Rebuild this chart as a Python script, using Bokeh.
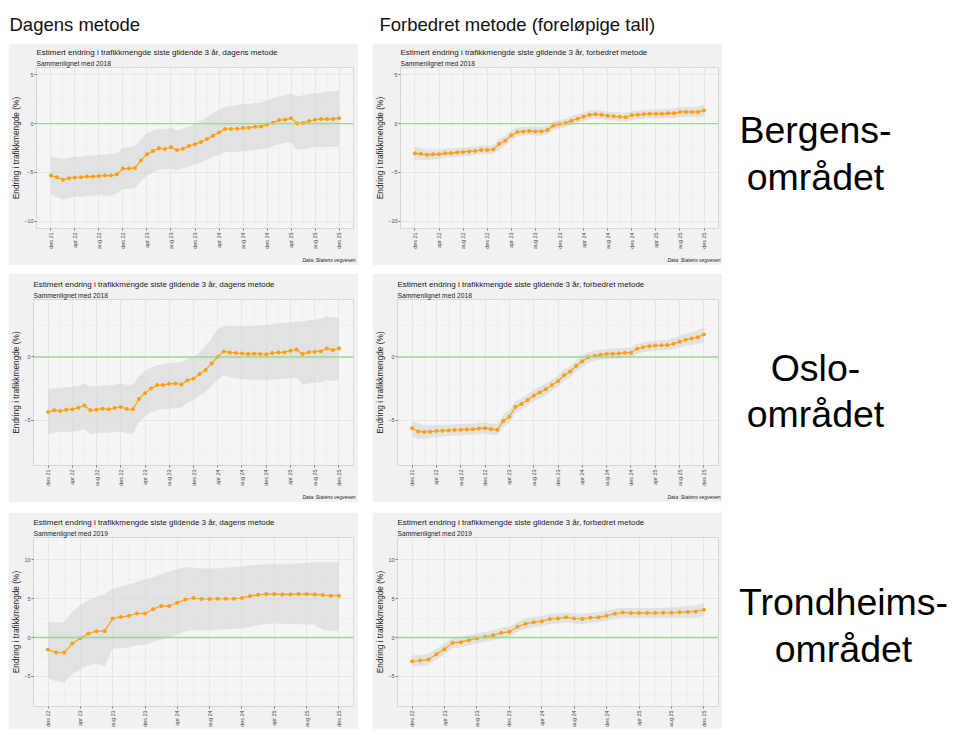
import math
from bokeh.plotting import figure
from bokeh.models import Range1d, FixedTicker, Title, Spacer, Span
from bokeh.layouts import column, row
from bokeh.core.properties import value
from bokeh.embed import file_html
from bokeh.resources import INLINE

FONT = "Liberation Sans"

# ---------------- data ----------------
labels_2021 = ["des 21", "apr 22", "aug 22", "des 22", "apr 23", "aug 23", "des 23",
               "apr 24", "aug 24", "des 24", "apr 25", "aug 25", "des 25"]
labels_2022 = ["des 22", "apr 23", "aug 23", "des 23", "apr 24", "aug 24", "des 24",
               "apr 25", "aug 25", "des 25"]

# Bergensområdet, dagens metode
bergen_dag = [-5.33, -5.49, -5.76, -5.59, -5.53, -5.49, -5.43, -5.43, -5.36, -5.33,
              -5.33, -5.20, -4.61, -4.61, -4.54, -3.78, -3.13, -2.80, -2.53, -2.60,
              -2.43, -2.70, -2.57, -2.30, -2.11, -1.88, -1.58, -1.25, -0.92, -0.56,
              -0.56, -0.53, -0.46, -0.43, -0.33, -0.30, -0.10, 0.10, 0.36, 0.39,
              0.56, 0.00, 0.07, 0.26, 0.39, 0.46, 0.46, 0.46, 0.56]
bergen_dag_hi = [-3.4, -3.5, -3.6, -3.5, -3.4, -3.4, -3.3, -3.3, -3.2, -3.2,
                 -3.1, -3.0, -2.5, -2.4, -2.3, -1.6, -1.0, -0.7, -0.5, -0.6,
                 -0.4, -0.7, -0.5, -0.3, 0.0, 0.3, 0.7, 1.1, 1.4, 1.7,
                 1.8, 1.9, 2.0, 2.0, 2.1, 2.2, 2.4, 2.6, 2.8, 2.9,
                 3.1, 2.8, 2.9, 3.0, 3.1, 3.2, 3.3, 3.3, 3.4]
bergen_dag_lo = [-7.3, -7.5, -7.8, -7.6, -7.5, -7.5, -7.4, -7.4, -7.3, -7.4,
                 -7.4, -7.2, -6.7, -6.7, -6.6, -5.9, -5.3, -5.0, -4.7, -4.7,
                 -4.6, -4.8, -4.6, -4.4, -4.2, -4.0, -3.7, -3.4, -3.2, -2.9,
                 -2.9, -2.9, -2.8, -2.8, -2.7, -2.6, -2.5, -2.3, -2.1, -2.0,
                 -1.9, -2.7, -2.6, -2.5, -2.4, -2.4, -2.4, -2.4, -2.3]

# Bergensområdet, forbedret metode
bergen_forb = [-3.05, -3.10, -3.20, -3.15, -3.15, -3.05, -3.00, -2.95, -2.90, -2.85,
               -2.80, -2.70, -2.70, -2.65, -2.10, -1.75, -1.20, -0.85, -0.80, -0.75,
               -0.80, -0.80, -0.65, -0.20, -0.05, 0.05, 0.30, 0.50, 0.70, 0.90,
               0.95, 0.90, 0.80, 0.75, 0.70, 0.65, 0.85, 0.90, 0.95, 1.00,
               1.00, 1.00, 1.05, 1.05, 1.20, 1.20, 1.20, 1.20, 1.35]
bergen_forb_ci = [0.65, 0.6, 0.55, 0.5, 0.5, 0.45, 0.45, 0.45, 0.45, 0.45,
                  0.45, 0.45, 0.45, 0.45, 0.5, 0.5, 0.5, 0.45, 0.45, 0.45,
                  0.45, 0.45, 0.45, 0.45, 0.45, 0.45, 0.45, 0.45, 0.45, 0.45,
                  0.45, 0.45, 0.45, 0.45, 0.45, 0.45, 0.45, 0.45, 0.45, 0.45,
                  0.45, 0.45, 0.45, 0.5, 0.5, 0.5, 0.5, 0.55, 0.6]

# Osloområdet, dagens metode
oslo_dag = [-4.36, -4.23, -4.28, -4.18, -4.15, -4.03, -3.85, -4.23, -4.18, -4.10,
            -4.15, -4.05, -3.97, -4.13, -4.15, -3.33, -2.87, -2.51, -2.23, -2.23,
            -2.13, -2.10, -2.18, -1.85, -1.72, -1.36, -1.03, -0.51, 0.00, 0.44,
            0.36, 0.31, 0.28, 0.23, 0.26, 0.23, 0.21, 0.31, 0.36, 0.38,
            0.49, 0.59, 0.23, 0.38, 0.41, 0.46, 0.67, 0.54, 0.69]
oslo_dag_hi = [-2.6, -2.5, -2.45, -2.4, -2.35, -2.3, -2.1, -2.35, -2.3, -2.25,
               -2.25, -2.2, -2.1, -2.2, -2.25, -1.5, -1.1, -0.85, -0.65, -0.6,
               -0.5, -0.45, -0.45, -0.15, 0.05, 0.4, 0.85, 1.5, 2.2, 2.45,
               2.45, 2.45, 2.45, 2.45, 2.45, 2.5, 2.55, 2.6, 2.65, 2.7,
               2.75, 2.8, 2.8, 2.9, 2.95, 3.05, 3.2, 3.15, 3.1]
oslo_dag_lo = [-6.15, -6.0, -5.95, -5.95, -5.9, -5.85, -5.7, -6.1, -6.05, -6.0,
               -6.0, -5.95, -5.9, -6.05, -6.1, -5.2, -4.7, -4.4, -4.2, -4.15,
               -4.1, -4.05, -4.0, -3.65, -3.45, -3.1, -2.75, -2.3, -1.8, -1.45,
               -1.6, -1.7, -1.75, -1.8, -1.8, -1.85, -1.85, -1.8, -1.75, -1.75,
               -1.7, -1.6, -2.2, -2.1, -2.05, -2.0, -1.85, -1.9, -1.75]

# Osloområdet, forbedret metode
oslo_forb = [-5.64, -5.90, -5.95, -5.92, -5.87, -5.85, -5.82, -5.79, -5.77, -5.74,
             -5.72, -5.67, -5.64, -5.72, -5.77, -5.08, -4.74, -3.97, -3.72, -3.41,
             -3.08, -2.82, -2.56, -2.23, -1.92, -1.46, -1.15, -0.72, -0.35, -0.03,
             0.08, 0.18, 0.23, 0.26, 0.28, 0.33, 0.33, 0.64, 0.77, 0.85,
             0.90, 0.92, 0.95, 1.05, 1.21, 1.36, 1.46, 1.56, 1.77]
oslo_forb_ci = [0.6, 0.6, 0.55, 0.5, 0.5, 0.45, 0.45, 0.45, 0.45, 0.45,
                0.45, 0.45, 0.45, 0.45, 0.45, 0.5, 0.5, 0.5, 0.45, 0.45,
                0.45, 0.45, 0.45, 0.45, 0.45, 0.45, 0.45, 0.45, 0.45, 0.45,
                0.4, 0.4, 0.4, 0.4, 0.4, 0.4, 0.4, 0.4, 0.4, 0.4,
                0.4, 0.4, 0.4, 0.45, 0.45, 0.5, 0.5, 0.55, 0.6]

# Trondheimsområdet, dagens metode
trd_dag = [-1.55, -1.94, -1.94, -0.78, -0.09, 0.52, 0.82, 0.82, 2.46, 2.63,
           2.80, 3.10, 3.10, 3.66, 4.05, 4.05, 4.48, 4.91, 5.09, 4.96,
           4.96, 5.00, 5.00, 5.00, 5.09, 5.34, 5.52, 5.60, 5.60, 5.56,
           5.56, 5.60, 5.60, 5.56, 5.47, 5.39, 5.39]
trd_dag_hi = [2.1, 1.9, 2.0, 3.3, 4.2, 4.8, 5.3, 5.6, 6.3, 6.6,
              6.85, 7.2, 7.5, 7.8, 8.2, 8.5, 8.8, 9.1, 9.0, 8.9,
              8.9, 8.9, 9.0, 9.1, 9.2, 9.3, 9.4, 9.45, 9.45, 9.5,
              9.5, 9.55, 9.6, 9.75, 9.75, 9.75, 9.75]
trd_dag_lo = [-5.3, -5.65, -5.8, -4.7, -4.1, -3.6, -3.4, -3.7, -1.45, -1.4,
              -1.3, -1.0, -1.0, -0.5, -0.25, -0.05, 0.4, 0.8, 0.95, 0.95,
              0.95, 1.0, 1.05, 1.1, 1.2, 1.35, 1.6, 1.75, 1.8, 1.75,
              1.7, 1.7, 1.7, 1.65, 1.0, 0.85, 0.8]

# Trondheimsområdet, forbedret metode
trd_forb = [-3.06, -2.97, -2.85, -2.15, -1.50, -0.69, -0.60, -0.34, -0.13, 0.09,
            0.30, 0.60, 0.73, 1.38, 1.77, 1.98, 2.10, 2.40, 2.45, 2.60,
            2.45, 2.40, 2.55, 2.60, 2.80, 3.06, 3.23, 3.15, 3.15, 3.15,
            3.17, 3.20, 3.20, 3.25, 3.30, 3.35, 3.58]
trd_forb_ci = [0.75, 0.75, 0.7, 0.7, 0.7, 0.65, 0.65, 0.65, 0.65, 0.65,
               0.65, 0.65, 0.65, 0.65, 0.65, 0.65, 0.65, 0.65, 0.65, 0.65,
               0.65, 0.65, 0.65, 0.65, 0.65, 0.65, 0.65, 0.65, 0.65, 0.65,
               0.65, 0.65, 0.7, 0.7, 0.75, 0.8, 0.85]

title_dag = "Estimert endring i trafikkmengde siste glidende 3 år, dagens metode"
title_forb = "Estimert endring i trafikkmengde siste glidende 3 år, forbedret metode"
sub_2018 = "Sammenlignet med 2018"
sub_2019 = "Sammenlignet med 2019"
caption_text = "Data: Statens vegvesen"
ytitle = "Endring i trafikkmengde (%)"
regions = [["Bergens-", "området"], ["Oslo-", "området"], ["Trondheims-", "området"]]
headers = ["Dagens metode", "Forbedret metode (foreløpige tall)"]

# ---------------- style ----------------
BORDER = "#f1f1f1"
PANEL = "#f5f5f5"
OUTLINE = "#d6d6d6"
GRID = "#e3e3e3"
GRID_MINOR = "#ebebeb"
RIBBON = "#d3d6d5"
ZERO = "#9cd694"
ORANGE = "#ff9d0a"


def make_panel(w, h, L, R, T, B, n, xr, yr, yt, ymt, xlabels, mid, lo, hi,
               title, subtitle, caption=True):
    xs = list(range(n))
    p = figure(width=w, height=h, x_range=Range1d(*xr), y_range=Range1d(*yr),
               output_backend="svg", toolbar_location=None, tools="",
               min_border_left=L, min_border_right=R, min_border_top=T,
               min_border_bottom=B)
    p.border_fill_color = BORDER
    p.background_fill_color = PANEL
    p.outline_line_color = OUTLINE
    p.outline_line_width = 1

    p.varea(x=xs, y1=lo, y2=hi, fill_color=RIBBON, fill_alpha=0.6)
    p.add_layout(Span(location=0, dimension="width", line_color=ZERO,
                      line_width=1.4, level="glyph"))
    p.line(xs, mid, line_color=ORANGE, line_width=1.1)
    p.scatter(xs, mid, size=4, fill_color=ORANGE, line_color=None)

    xt = list(range(0, n, 4))
    xmt = [t + 2 for t in xt[:-1]]
    p.xaxis.ticker = FixedTicker(ticks=xt, minor_ticks=xmt)
    p.xaxis.major_label_overrides = {t: lab for t, lab in zip(xt, xlabels)}
    p.xaxis.major_label_orientation = math.pi / 2
    p.yaxis.ticker = FixedTicker(ticks=yt, minor_ticks=ymt)

    for ax in (p.xaxis, p.yaxis):
        ax.axis_line_color = None
        ax.major_tick_line_color = "#777777"
        ax.major_tick_out = 2
        ax.major_tick_in = 0
        ax.minor_tick_out = 0
        ax.minor_tick_in = 0
        ax.minor_tick_line_color = None
        ax.major_label_text_font = FONT
        ax.major_label_text_font_size = "5.4px"
        ax.major_label_text_color = "#4d4d4d"
        ax.major_label_standoff = 2
    p.yaxis.major_label_standoff = 1
    p.yaxis.axis_label = ytitle
    p.yaxis.axis_label_text_font = FONT
    p.yaxis.axis_label_text_font_size = "8.3px"
    p.yaxis.axis_label_text_font_style = "normal"
    p.yaxis.axis_label_text_color = "#1a1a1a"
    p.yaxis.axis_label_standoff = 0

    for g in (p.xgrid, p.ygrid):
        g.grid_line_color = GRID
        g.grid_line_width = 0.8
        g.minor_grid_line_color = GRID_MINOR
        g.minor_grid_line_width = 0.6

    # subtitle first (closest to the frame), then title above it
    p.add_layout(Title(text=subtitle, align="left", offset=0, standoff=2,
                       text_font=FONT, text_font_size="6.7px",
                       text_font_style="normal", text_color="#1a1a1a"), "above")
    p.add_layout(Title(text=title, align="left", offset=0, standoff=0,
                       text_font=FONT, text_font_size="8px",
                       text_font_style="normal", text_color="#1a1a1a"), "above")
    if caption:
        p.add_layout(Title(text=caption_text, align="right", offset=-2, standoff=6,
                           text_font=FONT, text_font_size="5px",
                           text_font_style="italic", text_color="#1a1a1a"), "below")
    return p


n_a, n_b = len(bergen_dag), len(trd_dag)
xr_a, xr_b = (-2.4, 50.4), (-1.8, 37.8)
yr_1, yr_2, yr_3 = (-10.75, 5.75), (-8.6, 4.55), (-8.9, 12.9)


def band(mid, ci, sign):
    return [m + sign * c for m, c in zip(mid, ci)]


p1 = make_panel(350, 222, 27, 5, 24, 32, n_a, xr_a, yr_1, [-10, -5, 0, 5], [-7.5, -2.5, 2.5],
                labels_2021, bergen_dag, bergen_dag_lo, bergen_dag_hi, title_dag, sub_2018)
p2 = make_panel(350, 222, 25, 4, 24, 32, n_a, xr_a, yr_1, [-10, -5, 0, 5], [-7.5, -2.5, 2.5],
                labels_2021, bergen_forb, band(bergen_forb, bergen_forb_ci, -1),
                band(bergen_forb, bergen_forb_ci, 1), title_forb, sub_2018)
p3 = make_panel(350, 229, 24, 5, 26, 32, n_a, xr_a, yr_2, [-5, 0], [-7.5, -2.5, 2.5],
                labels_2021, oslo_dag, oslo_dag_lo, oslo_dag_hi, title_dag, sub_2018)
p4 = make_panel(350, 229, 23, 4, 26, 32, n_a, xr_a, yr_2, [-5, 0], [-7.5, -2.5, 2.5],
                labels_2021, oslo_forb, band(oslo_forb, oslo_forb_ci, -1),
                band(oslo_forb, oslo_forb_ci, 1), title_forb, sub_2018)
p5 = make_panel(350, 217, 25, 5, 25, 23, n_b, xr_b, yr_3, [-5, 0, 5, 10], [-7.5, -2.5, 2.5, 7.5, 12.5],
                labels_2022, trd_dag, trd_dag_lo, trd_dag_hi, title_dag, sub_2019, caption=False)
p6 = make_panel(350, 217, 23, 4, 25, 23, n_b, xr_b, yr_3, [-5, 0, 5, 10], [-7.5, -2.5, 2.5, 7.5, 12.5],
                labels_2022, trd_forb, band(trd_forb, trd_forb_ci, -1),
                band(trd_forb, trd_forb_ci, 1), title_forb, sub_2019, caption=False)


def blank(w, h, xr, yr):
    f = figure(width=w, height=h, x_range=Range1d(*xr), y_range=Range1d(*yr),
               x_axis_location=None, y_axis_location=None, output_backend="svg",
               toolbar_location=None, tools="", min_border=0)
    f.grid.visible = False
    f.outline_line_color = None
    f.background_fill_color = "white"
    f.border_fill_color = "white"
    return f


# header (page coordinates, y downward)
hdr = blank(942, 35, (8, 950), (43, 8))
hdr.text(x=[9, 379], y=[24, 24], text=headers, text_font=value(FONT),
         text_font_size="18.5px", text_color="#111111", text_baseline="alphabetic",
         text_align="left")

# region labels (page coordinates, y downward)
lab = blank(228, 686, (722, 950), (729, 43))
lab_x = [815, 815, 815, 815, 843, 843]
lab_y = [129, 176, 367, 413, 601, 648]
lab_t = [s for pair in regions for s in pair]
lab.text(x=lab_x, y=lab_y, text=lab_t, text_font=value(FONT), text_font_size="37.5px",
         text_color="#000000", text_baseline="alphabetic", text_align="center")

panels = column(row(p1, Spacer(width=14), p2), Spacer(height=8),
                row(p3, Spacer(width=14), p4), Spacer(height=10),
                row(p5, Spacer(width=14), p6))
content = column(hdr, row(panels, lab))
layout = column(Spacer(height=8), row(Spacer(width=8), content))

open("out.html", "w").write(file_html(layout, INLINE))
